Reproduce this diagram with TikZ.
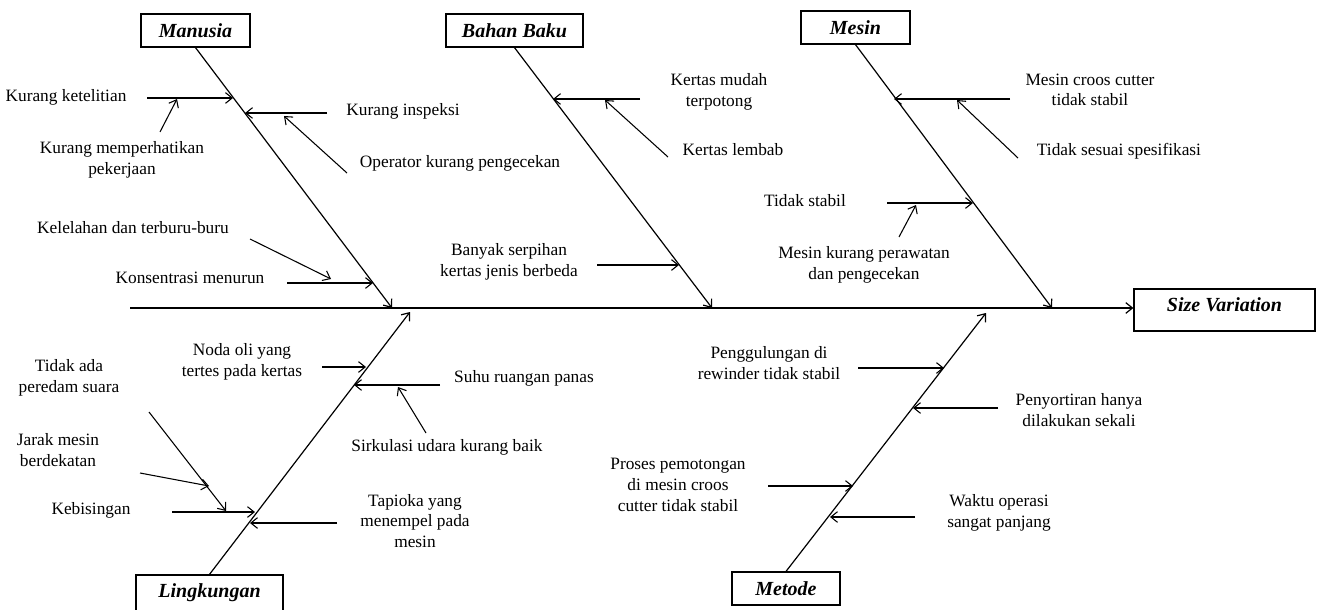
\documentclass[tikz,border=0pt]{standalone}
\usepackage{fontspec}
\setmainfont{Liberation Serif}
\usetikzlibrary{arrows.meta}

\begin{document}
\begin{tikzpicture}[
  x=0.75pt,y=-0.75pt,
  font=\fontsize{13}{15.5}\selectfont,
  >={Straight Barb[length=5pt,width=8pt]},
  cat/.style={draw,line width=0.9pt,inner sep=0pt,minimum height=24.75pt,
              font=\fontsize{15}{18}\selectfont\bfseries\itshape},
  tallcat/.style={cat,minimum height=0pt,text height=16.5pt,text depth=15pt,anchor=base},
  txt/.style={align=center,inner sep=0pt},
  bone/.style={->,line width=0.9pt},
  cause/.style={->,line width=0.8pt},
]
\useasboundingbox (0,0) rectangle (1318,610);

% ---- effect and spine ----
\node[tallcat,minimum width=135.75pt] (size) at (1224.5,311) {Size Variation};
\coordinate (tail) at (130,308);
\draw[bone] (tail) -- (tail -| size.west);

% ---- category boxes ----
\node[cat,minimum width=81.75pt]  (man)    at (195.5,30.5) {Manusia};
\node[cat,minimum width=102.75pt] (bahan)  at (514.5,30.5) {Bahan Baku};
\node[cat,minimum width=81.75pt]  (mesin)  at (855.5,27.5) {Mesin};
\node[tallcat,minimum width=110.25pt] (ling) at (209.5,597) {Lingkungan};
\node[cat,minimum width=81pt]     (metode) at (786,588.5)  {Metode};

% ---- main bones ----
\coordinate (manE)    at (392,308);
\coordinate (bahanE)  at (712,308);
\coordinate (mesinE)  at (1052,308);
\coordinate (lingE)   at (410,312);
\coordinate (metodeE) at (986,313);
\draw[bone] (man.south)    -- (manE);
\draw[bone] (bahan.south)  -- (bahanE);
\draw[bone] (mesin.south)  -- (mesinE);
\draw[bone] (ling.north)   -- (lingE);
\draw[bone] (metode.north) -- (metodeE);

% ---- Manusia ----
\node[txt] (t1) at (66,97)   {Kurang ketelitian};
\node[txt] (t2) at (122,160) {Kurang memperhatikan\\pekerjaan};
\node[txt] (t3) at (403,111) {Kurang inspeksi};
\node[txt] (t4) at (460,163) {Operator kurang pengecekan};
\node[txt] (t5) at (133,228) {Kelelahan dan terburu-buru};
\node[txt] (t6) at (190,278) {Konsentrasi menurun};
\coordinate (a1) at (147,98);   \coordinate (b1) at (233,98);
\coordinate (a2) at (160,132);  \coordinate (b2) at (177,99);
\coordinate (a3) at (327,113);  \coordinate (b3) at (245,113);
\coordinate (a4) at (347,173);  \coordinate (b4) at (284,116);
\coordinate (a5) at (250,239);  \coordinate (b5) at (331,279);
\coordinate (a6) at (287,283);  \coordinate (b6) at (373,283);

% ---- Bahan Baku ----
\node[txt] (t7) at (719,92)  {Kertas mudah\\terpotong};
\node[txt] (t8) at (733,150) {Kertas lembab};
\node[txt] (t9) at (509,262) {Banyak serpihan\\kertas jenis berbeda};
\coordinate (a7) at (640,99);   \coordinate (b7) at (553,99);
\coordinate (a8) at (668,157);  \coordinate (b8) at (605,100);
\coordinate (a9) at (597,265);  \coordinate (b9) at (679,265);

% ---- Mesin ----
\node[txt] (t10) at (1090,90)  {Mesin croos cutter\\tidak stabil};
\node[txt] (t11) at (1119,151) {Tidak sesuai spesifikasi};
\node[txt] (t12) at (805,201)  {Tidak stabil};
\node[txt] (t13) at (864,265)  {Mesin kurang perawatan\\dan pengecekan};
\coordinate (a10) at (1010,99);  \coordinate (b10) at (894,99);
\coordinate (a11) at (1018,158); \coordinate (b11) at (957,100);
\coordinate (a12) at (887,203);  \coordinate (b12) at (973,203);
\coordinate (a13) at (899,237);  \coordinate (b13) at (916,205);

% ---- Lingkungan ----
\node[txt] (t14) at (242,362) {Noda oli yang\\tertes pada kertas};
\node[txt] (t15) at (524,378) {Suhu ruangan panas};
\node[txt] (t16) at (447,447) {Sirkulasi udara kurang baik};
\node[txt] (t17) at (69,378)  {Tidak ada\\peredam suara};
\node[txt] (t18) at (58,450)  {Jarak mesin\\berdekatan};
\node[txt] (t19) at (91,510)  {Kebisingan};
\node[txt] (t20) at (415,521) {Tapioka yang\\menempel pada\\mesin};
\coordinate (a14) at (322,367);  \coordinate (b14) at (366,367);
\coordinate (a15) at (440,385);  \coordinate (b15) at (354,385);
\coordinate (a16) at (426,433);  \coordinate (b16) at (398,387);
\coordinate (a17) at (149,412);  \coordinate (b17) at (226,511);
\coordinate (a18) at (140,473);  \coordinate (b18) at (209,486);
\coordinate (a19) at (172,512);  \coordinate (b19) at (255,512);
\coordinate (a20) at (337,523);  \coordinate (b20) at (250,523);

% ---- Metode ----
\node[txt] (t21) at (769,363)  {Penggulungan di\\rewinder tidak stabil};
\node[txt] (t22) at (1079,410) {Penyortiran hanya\\dilakukan sekali};
\node[txt] (t23) at (678,485)  {Proses pemotongan\\di mesin croos\\cutter tidak stabil};
\node[txt] (t24) at (999,513)  {Waktu operasi\\sangat panjang};
\coordinate (a21) at (858,368);  \coordinate (b21) at (944,368);
\coordinate (a22) at (998,408);  \coordinate (b22) at (913,408);
\coordinate (a23) at (768,486);  \coordinate (b23) at (853,486);
\coordinate (a24) at (915,517);  \coordinate (b24) at (830,517);

% cause arrows, all alike
\foreach \i in {1,...,24}
  \draw[cause] (a\i) -- (b\i);

\end{tikzpicture}
\end{document}
